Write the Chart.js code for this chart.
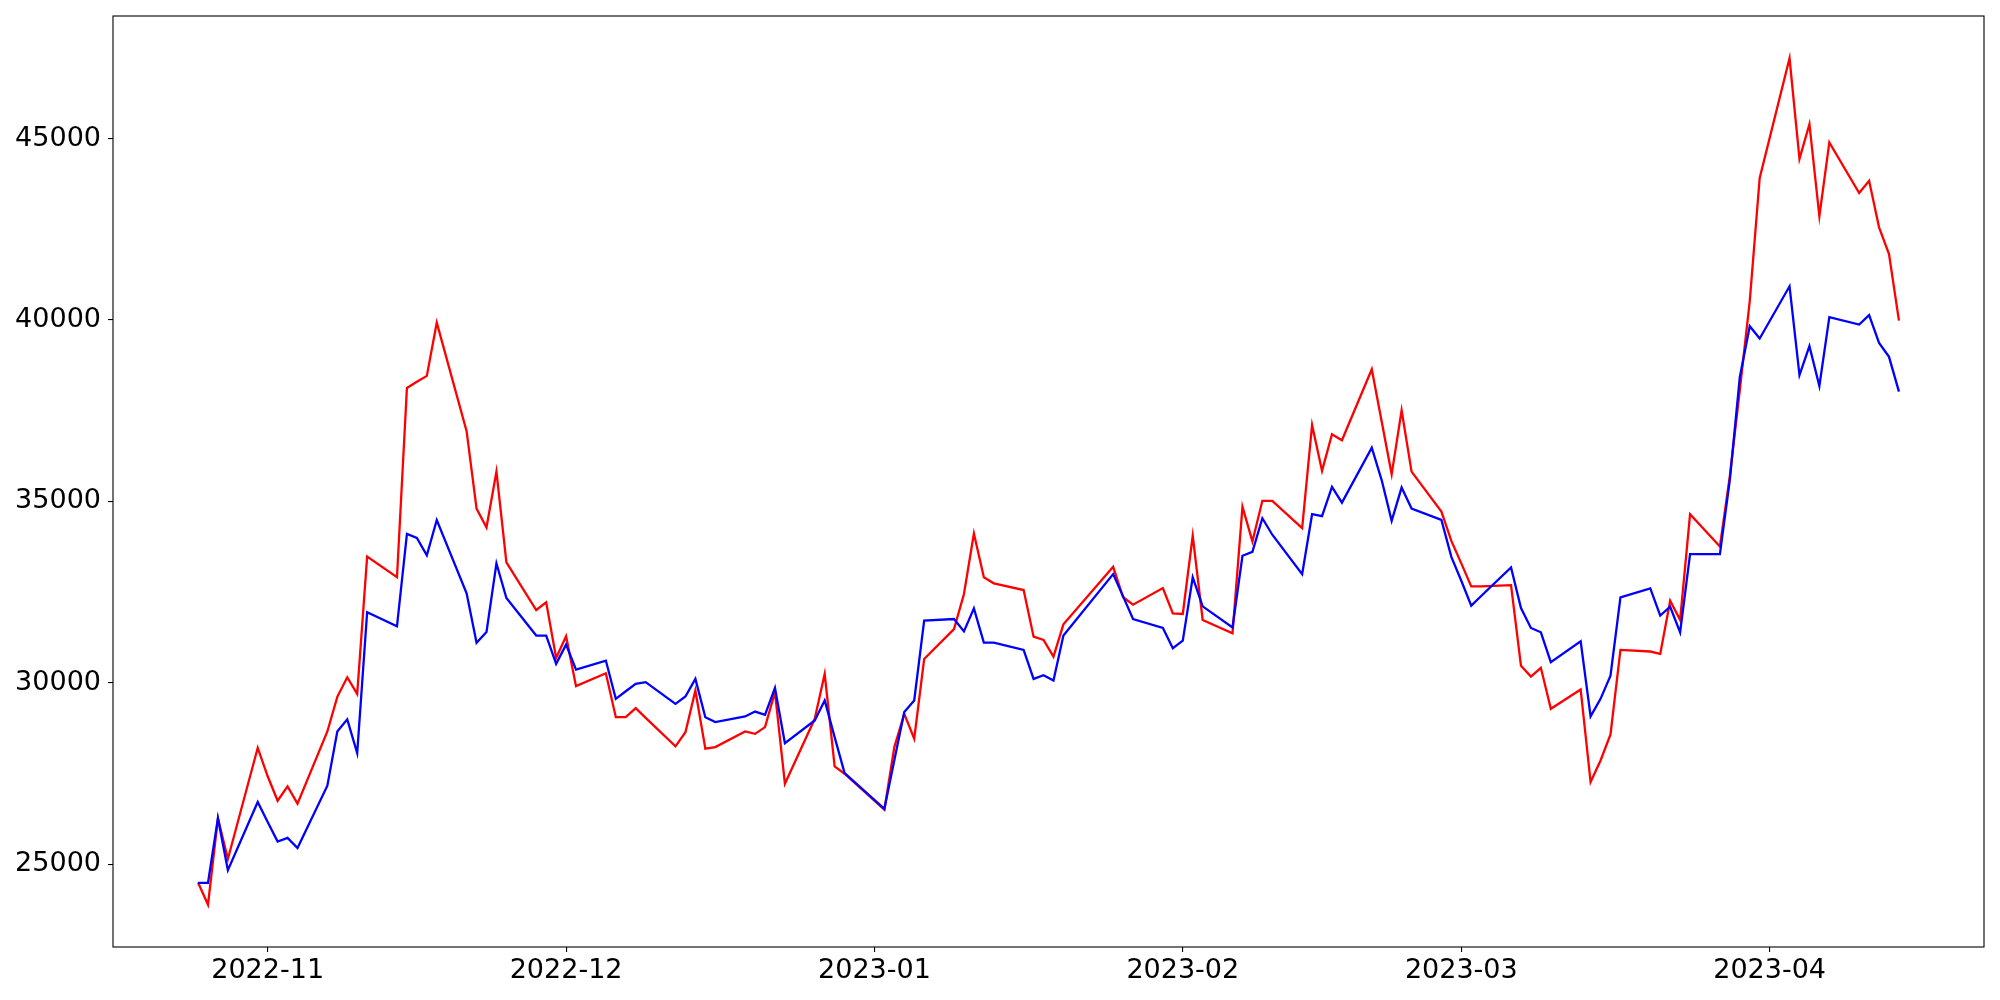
<!DOCTYPE html>
<html>
<head>
<meta charset="utf-8">
<script src="https://cdn.jsdelivr.net/npm/chart.js@4.4.0/dist/chart.umd.min.js"></script>
<style>
  html, body { margin: 0; padding: 0; background: #ffffff; }
  #chart { display: block; }
</style>
</head>
<body>
<canvas id="chart" width="2000" height="1000"></canvas>
<script>
// trading days shown in the picture
var dates = [
	'2022-10-25', '2022-10-26', '2022-10-27', '2022-10-28', '2022-10-31',
	'2022-11-01', '2022-11-02', '2022-11-03', '2022-11-04', '2022-11-07',
	'2022-11-08', '2022-11-09', '2022-11-10', '2022-11-11', '2022-11-14',
	'2022-11-15', '2022-11-16', '2022-11-17', '2022-11-18', '2022-11-21',
	'2022-11-22', '2022-11-23', '2022-11-24', '2022-11-25', '2022-11-28',
	'2022-11-29', '2022-11-30', '2022-12-01', '2022-12-02', '2022-12-05',
	'2022-12-06', '2022-12-07', '2022-12-08', '2022-12-09', '2022-12-12',
	'2022-12-13', '2022-12-14', '2022-12-15', '2022-12-16', '2022-12-19',
	'2022-12-20', '2022-12-21', '2022-12-22', '2022-12-23', '2022-12-26',
	'2022-12-27', '2022-12-28', '2022-12-29', '2023-01-02', '2023-01-03',
	'2023-01-04', '2023-01-05', '2023-01-06', '2023-01-09', '2023-01-10',
	'2023-01-11', '2023-01-12', '2023-01-13', '2023-01-16', '2023-01-17',
	'2023-01-18', '2023-01-19', '2023-01-20', '2023-01-25', '2023-01-26',
	'2023-01-27', '2023-01-30', '2023-01-31', '2023-02-01', '2023-02-02',
	'2023-02-03', '2023-02-06', '2023-02-07', '2023-02-08', '2023-02-09',
	'2023-02-10', '2023-02-13', '2023-02-14', '2023-02-15', '2023-02-16',
	'2023-02-17', '2023-02-20', '2023-02-21', '2023-02-22', '2023-02-23',
	'2023-02-24', '2023-02-27', '2023-02-28', '2023-03-01', '2023-03-02',
	'2023-03-03', '2023-03-06', '2023-03-07', '2023-03-08', '2023-03-09',
	'2023-03-10', '2023-03-13', '2023-03-14', '2023-03-15', '2023-03-16',
	'2023-03-17', '2023-03-20', '2023-03-21', '2023-03-22', '2023-03-23',
	'2023-03-24', '2023-03-27', '2023-03-28', '2023-03-29', '2023-03-30',
	'2023-03-31', '2023-04-03', '2023-04-04', '2023-04-05', '2023-04-06',
	'2023-04-07', '2023-04-10', '2023-04-11', '2023-04-12', '2023-04-13',
	'2023-04-14'
];

var redValues = [
	24490, 23880, 26260, 25140, 28205,
	27420, 26745, 27140, 26665, 28655,
	29610, 30150, 29690, 33475, 32910,
	38125, 38295, 38460, 39925, 36935,
	34800, 34280, 35820, 33320, 32005,
	32215, 30685, 31280, 29905, 30260,
	29050, 29050, 29300, 29030, 28245,
	28635, 29785, 28180, 28225, 28655,
	28590, 28775, 29740, 27215, 29005,
	30245, 27690, 27490, 26500, 28225,
	29140, 28455, 30655, 31480, 32445,
	34115, 32905, 32740, 32555, 31270,
	31180, 30720, 31610, 33195, 32355,
	32150, 32610, 31910, 31895, 34050,
	31730, 31360, 34850, 33895, 35015,
	35015, 34260, 37105, 35840, 36850,
	36685, 38640, 37195, 35745, 37510,
	35820, 34720, 33910, 33290, 32655,
	32655, 32690, 30470, 30170, 30410,
	29280, 29810, 27260, 27855, 28575,
	30905, 30860, 30795, 32260, 31730,
	34645, 33755, 35700, 38070, 40520,
	43915, 47215, 44445, 45400, 42860,
	44895, 43500, 43840, 42555, 41820,
	39985
];

var blueValues = [
	24480, 24480, 26260, 24830, 26710,
	26160, 25620, 25720, 25440, 27160,
	28655, 28990, 28060, 31945, 31555,
	34105, 33990, 33510, 34485, 32465,
	31100, 31400, 33290, 32335, 31300,
	31300, 30520, 31050, 30360, 30610,
	29555, 29765, 29970, 30015, 29415,
	29620, 30105, 29050, 28915, 29070,
	29205, 29115, 29860, 28335, 28960,
	29510, 28500, 27510, 26525, 27860,
	29190, 29510, 31710, 31755, 31415,
	32050, 31105, 31105, 30905, 30105,
	30205, 30060, 31300, 32995, 32380,
	31755, 31510, 30950, 31160, 32905,
	32105, 31525, 33500, 33610, 34535,
	34080, 32995, 34645, 34590, 35400,
	34965, 36480, 35580, 34465, 35380,
	34800, 34490, 33470, 32810, 32125,
	32390, 33180, 32060, 31510, 31390,
	30565, 31140, 29070, 29555, 30195,
	32355, 32600, 31850, 32095, 31390,
	33545, 33545, 35600, 38425, 39830,
	39490, 40930, 38480, 39280, 38180,
	40080, 39875, 40135, 39370, 38985,
	38025
];

var monthTicks = ['2022-11-01', '2022-12-01', '2023-01-01', '2023-02-01', '2023-03-01', '2023-04-01'];
var yTicks = [25000, 30000, 35000, 40000, 45000];

( function () {
	'use strict';

	var DAY = 86400000;

	function toDay( s ) {
		var p = s.split( '-' );
		return Date.UTC( +p[0], +p[1] - 1, +p[2] ) / DAY;
	}

	function dayLabel( d ) {
		var dt = new Date( d * DAY );
		var m = dt.getUTCMonth() + 1;
		return dt.getUTCFullYear() + '-' + ( m < 10 ? '0' + m : m );
	}

	function points( values ) {
		return values.map( function ( v, i ) {
			return { x: toDay( dates[i] ), y: v };
		} );
	}

	// matplotlib style 5% margins
	var xs = dates.map( toDay );
	var xMin = Math.min.apply( null, xs ), xMax = Math.max.apply( null, xs );
	var xPad = ( xMax - xMin ) * 0.05;
	var all = redValues.concat( blueValues );
	var yMin = Math.min.apply( null, all ), yMax = Math.max.apply( null, all );
	var yPad = ( yMax - yMin ) * 0.05;

	var frame = {
		id: 'frame',
		afterDraw: function ( chart ) {
			var a = chart.chartArea, ctx = chart.ctx;
			ctx.save();
			ctx.strokeStyle = '#000000';
			ctx.lineWidth = 1.1;
			ctx.strokeRect( a.left, a.top, a.right - a.left, a.bottom - a.top );
			ctx.restore();
		}
	};

	var tickFont = { family: '"DejaVu Sans", sans-serif', size: 27 };

	new Chart( document.getElementById( 'chart' ).getContext( '2d' ), {
		type: 'line',
		data: {
			datasets: [
				{
					data: points( redValues ),
					borderColor: '#ff0000',
					borderWidth: 2.3,
					pointRadius: 0,
					tension: 0,
					fill: false,
					order: 1,
				},
				{
					data: points( blueValues ),
					borderColor: '#0000ff',
					borderWidth: 2.3,
					pointRadius: 0,
					tension: 0,
					fill: false,
					order: 0,
				},
			],
		},
		options: {
			responsive: false,
			devicePixelRatio: 1,
			animation: false,
			events: [],
			layout: { padding: { top: 16, right: 16, left: 0, bottom: 0 } },
			plugins: {
				legend: { display: false },
				tooltip: { enabled: false },
			},
			scales: {
				x: {
					type: 'linear',
					min: xMin - xPad,
					max: xMax + xPad,
					border: { display: false },
					grid: { drawOnChartArea: false, drawTicks: true, tickLength: 5, color: '#000000', lineWidth: 1.1 },
					afterBuildTicks: function ( scale ) {
						scale.ticks = monthTicks.map( function ( s ) { return { value: toDay( s ) }; } );
					},
					afterFit: function ( scale ) {
						scale.height = 53;
						scale.paddingLeft = 0;
						scale.paddingRight = 0;
					},
					ticks: {
						autoSkip: false,
						maxRotation: 0,
						padding: 3,
						color: '#000000',
						font: tickFont,
						callback: function ( v ) { return dayLabel( v ); },
					},
				},
				y: {
					type: 'linear',
					min: yMin - yPad,
					max: yMax + yPad,
					border: { display: false },
					grid: { drawOnChartArea: false, drawTicks: true, tickLength: 5, color: '#000000', lineWidth: 1.1 },
					afterBuildTicks: function ( scale ) {
						scale.ticks = yTicks.map( function ( v ) { return { value: v }; } );
					},
					afterFit: function ( scale ) {
						scale.width = 113;
						scale.paddingTop = 0;
						scale.paddingBottom = 0;
					},
					ticks: {
						padding: 7,
						color: '#000000',
						font: tickFont,
						callback: function ( v ) { return String( v ); },
					},
				},
			},
		},
		plugins: [ frame ],
	} );
} )();
</script>
</body>
</html>
